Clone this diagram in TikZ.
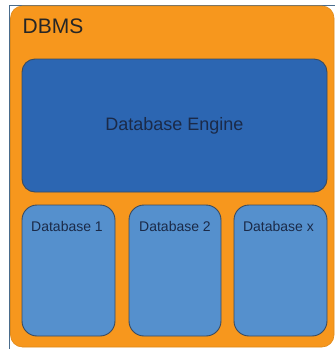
\documentclass[tikz,border=0pt]{standalone}
\usepackage{fontspec}
\setmainfont{Liberation Sans}
\definecolor{dbmsorange}{HTML}{F7971D}
\definecolor{dbmsedge}{HTML}{E08A1A}
\definecolor{engineblue}{HTML}{2C66B2}
\definecolor{dbblue}{HTML}{5590CD}
\definecolor{boxedge}{HTML}{3A4B60}
\definecolor{navytext}{HTML}{1B2A48}
\definecolor{framec}{HTML}{4A6C8C}
\tikzset{
  outerbox/.style={fill=dbmsorange, draw=dbmsedge, line width=0.6pt, rounded corners=12pt},
  enginebox/.style={fill=engineblue, draw=boxedge, line width=0.9pt, rounded corners=13pt},
  dbbox/.style={fill=dbblue, draw=boxedge, line width=0.9pt, rounded corners=15pt},
  lbl/.style={inner sep=0pt, text=navytext}
}
\begin{document}
\begin{tikzpicture}[x=1pt, y=-1pt]
\useasboundingbox (0,0) rectangle (335,349);
\fill[white] (0,0) rectangle (335,349);
% frame lines
\draw[framec, line width=1pt] (9,349) -- (9,5) -- (335,5);
% DBMS container
\path[outerbox] (10.5,6) rectangle (334,347);
\node[inner sep=0pt, anchor=west, text=black!85, font=\fontsize{21}{24}\selectfont] (dbms) at (22.5,26.5) {DBMS};
% engine
\path[enginebox] (22,59) rectangle (327,192);
\node[lbl, font=\fontsize{18}{21}\selectfont] (engine) at (174.5,125.5) {Database Engine};
% databases
\path[dbbox] (22,205) rectangle (115,336);
\path[dbbox] (129,205) rectangle (221,336);
\path[dbbox] (234,205) rectangle (327,336);
\node[lbl, font=\fontsize{14}{17}\selectfont] (db1) at (67,226) {Database 1};
\node[lbl, font=\fontsize{14}{17}\selectfont] (db2) at (175,226) {Database 2};
\node[lbl, font=\fontsize{14}{17}\selectfont] (dbx) at (278.5,226) {Database x};
\end{tikzpicture}
\end{document}
